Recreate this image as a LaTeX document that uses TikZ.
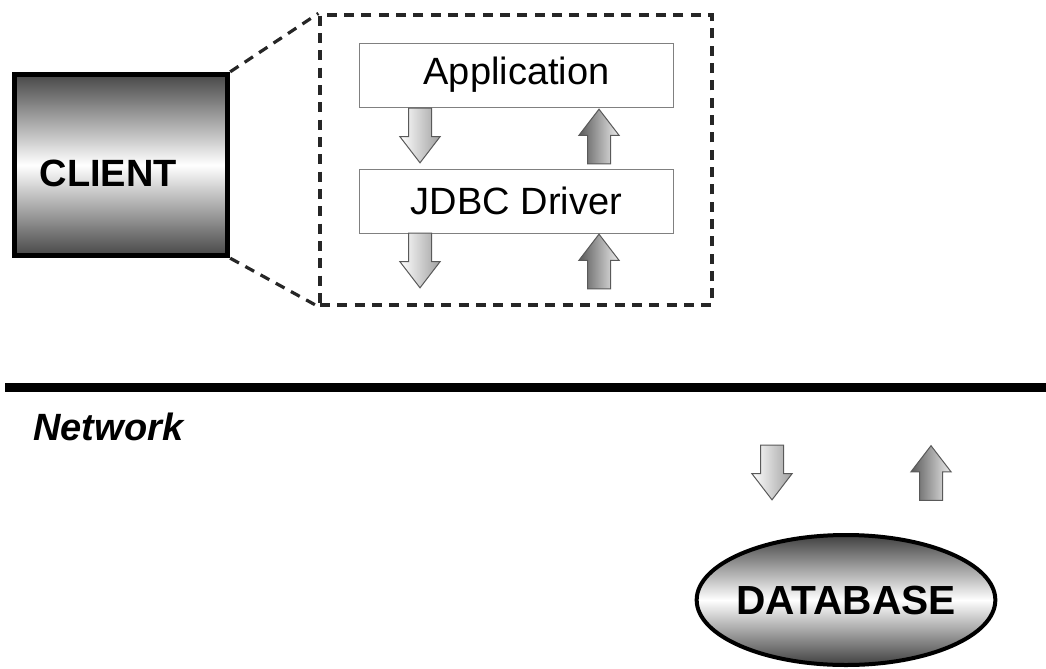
\documentclass[tikz,border=0pt]{standalone}
\usepackage{fontspec}
\setmainfont{Liberation Sans}
\usetikzlibrary{positioning,shapes.geometric,shapes.arrows}

\tikzset{
  layer/.style={draw=gray,line width=0.75pt,fill=white,minimum width=236pt,minimum height=48pt,inner sep=0pt},
  flow/.style={single arrow,draw=black!65,line width=0.75pt,inner xsep=0pt,inner ysep=8.25pt,minimum height=41pt,minimum width=29pt,
    single arrow head extend=6.5pt,single arrow tip angle=75},
  downflow/.style={flow,rotate=-90,left color=white,right color=gray!75},
  upflow/.style={flow,rotate=90,left color=black!65,right color=gray!15},
  zoomline/.style={draw=black!85,line width=2.4pt,dash pattern=on 7.5pt off 5.5pt}
}

\begin{document}
\begin{tikzpicture}[x=0.75pt,y=-0.75pt,font=\fontsize{28.5}{31}\selectfont]
  \useasboundingbox (0,0) rectangle (1046,668);
  % client side
  \node[draw,line width=3.75pt,top color=black!72,bottom color=black!72,middle color=white,
    minimum width=160pt,minimum height=136pt,text width=122pt,inner xsep=19pt,align=left,
    text height=32pt,font=\fontsize{28.5}{31}\selectfont\bfseries] (client) at (121,165) {CLIENT};
  \node[zoomline,minimum width=294pt,minimum height=217.5pt] (detail) at (516,160) {};
  \draw[zoomline] (client.north east) -- (detail.north west);
  \draw[zoomline] (client.south east) -- (detail.south west);
  \node[layer] (app) at (516.5,75) {Application};
  \node[layer,below=45.75pt of app] (driver) {JDBC Driver};
  \node[downflow] (appdown) at (420,128) {};
  \node[upflow] (appup) at (599,144) {};
  \node[downflow] (drvdown) at (420,253) {};
  \node[upflow] (drvup) at (599,269) {};
  % network
  \coordinate (netL) at (5,387.5);
  \coordinate (netR) at (1046,387.5);
  \draw[line width=6.75pt] (netL) -- (netR);
  \node[anchor=west,inner sep=0pt,font=\fontsize{28.5}{31}\selectfont\bfseries\itshape] (net) at (33,427) {Network};
  % server side
  \node[downflow] (dbdown) at (772,465) {};
  \node[upflow] (dbup) at (931,480.5) {};
  \node[ellipse,draw,line width=3pt,top color=black!75,bottom color=black!75,middle color=white,
    minimum width=224pt,minimum height=97.5pt,inner xsep=-12pt,inner ysep=0pt,
    font=\fontsize{30.5}{33}\selectfont\bfseries] (db) at (846,600) {DATABASE};
\end{tikzpicture}
\end{document}
